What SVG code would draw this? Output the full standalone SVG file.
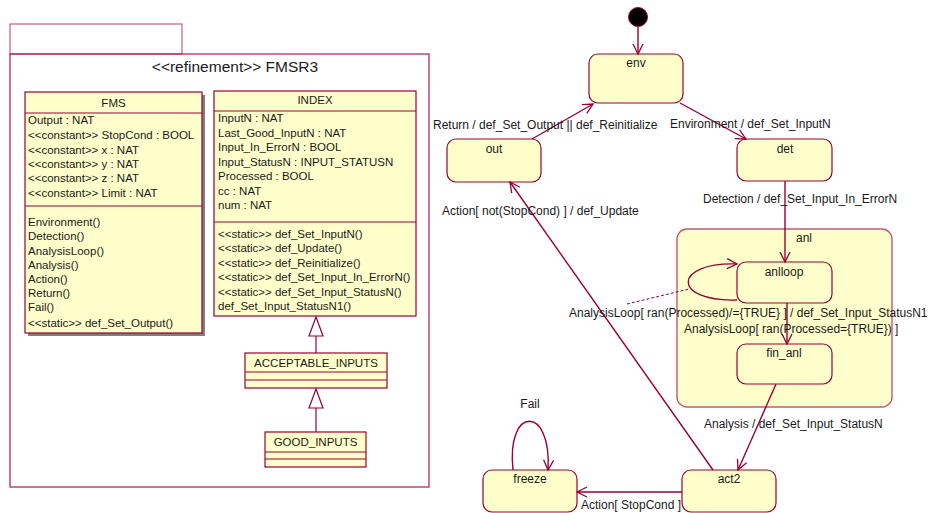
<svg xmlns="http://www.w3.org/2000/svg" width="933" height="513" viewBox="0 0 933 513">
<defs>
<marker id="arr" markerUnits="userSpaceOnUse" markerWidth="14" markerHeight="14" refX="11" refY="6" orient="auto">
<path d="M1,1 L11,6 L1,11" fill="none" stroke="#990033" stroke-width="1.3"/>
</marker>
<style>
text{font-family:"Liberation Sans",Arial,sans-serif;fill:#1a1a1a}
.cls{font-size:11.5px}
.st{font-size:12px}
.box{fill:#ffffcc;stroke:#990033;stroke-width:1.2}
.line{stroke:#990033;stroke-width:1.2;fill:none}
.state{fill:#ffffcc;stroke:#990033;stroke-width:1.2}
.conn{stroke:#990033;stroke-width:1.4;fill:none}
</style>
</defs>
<rect width="933" height="513" fill="#ffffff"/>

<g id="package">
<rect x="10" y="24" width="172" height="30" fill="none" stroke="#b8406a" stroke-width="1"/>
<rect x="10" y="54" width="419" height="433" fill="none" stroke="#b01a4a" stroke-width="1.2"/>
<text x="235" y="72" text-anchor="middle" style="font-size:15.5px">&lt;&lt;refinement&gt;&gt; FMSR3</text>
</g>

<g id="FMS">
<rect x="28" y="95" width="177" height="241" fill="#808080"/>
<rect x="25" y="92" width="177" height="241" class="box"/>
<line x1="25" y1="113" x2="202" y2="113" class="line"/>
<line x1="25" y1="206" x2="202" y2="206" class="line"/>
<text x="113.5" y="107" text-anchor="middle" class="cls">FMS</text>
<g class="cls">
<text x="28" y="124">Output : NAT</text>
<text x="28" y="139">&lt;&lt;constant&gt;&gt; StopCond : BOOL</text>
<text x="28" y="154">&lt;&lt;constant&gt;&gt; x : NAT</text>
<text x="28" y="168">&lt;&lt;constant&gt;&gt; y : NAT</text>
<text x="28" y="182">&lt;&lt;constant&gt;&gt; z : NAT</text>
<text x="28" y="197">&lt;&lt;constant&gt;&gt; Limit : NAT</text>
<text x="28" y="226">Environment()</text>
<text x="28" y="240">Detection()</text>
<text x="28" y="255">AnalysisLoop()</text>
<text x="28" y="269">Analysis()</text>
<text x="28" y="283">Action()</text>
<text x="28" y="297">Return()</text>
<text x="28" y="311">Fail()</text>
<text x="28" y="327">&lt;&lt;static&gt;&gt; def_Set_Output()</text>
</g>
</g>

<g id="INDEX">
<rect x="214" y="91" width="202" height="225" class="box"/>
<line x1="214" y1="111" x2="416" y2="111" class="line"/>
<line x1="214" y1="222" x2="416" y2="222" class="line"/>
<text x="315" y="104" text-anchor="middle" class="cls">INDEX</text>
<g class="cls">
<text x="218" y="122">InputN : NAT</text>
<text x="218" y="137">Last_Good_InputN : NAT</text>
<text x="218" y="151">Input_In_ErrorN : BOOL</text>
<text x="218" y="166">Input_StatusN : INPUT_STATUSN</text>
<text x="218" y="180">Processed : BOOL</text>
<text x="218" y="195">cc : NAT</text>
<text x="218" y="209">num : NAT</text>
<text x="218" y="238">&lt;&lt;static&gt;&gt; def_Set_InputN()</text>
<text x="218" y="252">&lt;&lt;static&gt;&gt; def_Update()</text>
<text x="218" y="267">&lt;&lt;static&gt;&gt; def_Reinitialize()</text>
<text x="218" y="281">&lt;&lt;static&gt;&gt; def_Set_Input_In_ErrorN()</text>
<text x="218" y="296">&lt;&lt;static&gt;&gt; def_Set_Input_StatusN()</text>
<text x="218" y="310">def_Set_Input_StatusN1()</text>
</g>
</g>

<g id="ACCEPTABLE_INPUTS">
<rect x="245" y="353" width="142" height="35" class="box"/>
<line x1="245" y1="372" x2="387" y2="372" class="line"/>
<line x1="245" y1="380" x2="387" y2="380" class="line"/>
<text x="316" y="367" text-anchor="middle" class="cls">ACCEPTABLE_INPUTS</text>
</g>

<g id="GOOD_INPUTS">
<rect x="265" y="432" width="101" height="35" class="box"/>
<line x1="265" y1="452" x2="366" y2="452" class="line"/>
<line x1="265" y1="459" x2="366" y2="459" class="line"/>
<text x="315.5" y="446" text-anchor="middle" class="cls">GOOD_INPUTS</text>
</g>

<g id="generalizations">
<line x1="316" y1="336" x2="316" y2="353" class="line"/>
<polygon points="316,317 309,336 323,336" fill="#ffffff" stroke="#990033" stroke-width="1.2"/>
<line x1="316" y1="408" x2="316" y2="432" class="line"/>
<polygon points="316,389 309,408 323,408" fill="#ffffff" stroke="#990033" stroke-width="1.2"/>
</g>

<g id="initial">
<circle cx="638" cy="17" r="9.5" fill="#000000" stroke="#990033" stroke-width="1"/>
</g>
<g id="env">
<rect x="589" y="54" width="94" height="49" rx="9" class="state"/>
<text x="636" y="67" text-anchor="middle" class="st">env</text>
</g>
<g id="out">
<rect x="447" y="139" width="94" height="43" rx="9" class="state"/>
<text x="494" y="153" text-anchor="middle" class="st">out</text>
</g>
<g id="det">
<rect x="737" y="139" width="95" height="42" rx="9" class="state"/>
<text x="785" y="153" text-anchor="middle" class="st">det</text>
</g>
<g id="anl">
<rect x="677" y="229" width="215" height="178" rx="10" fill="#ffffcc" stroke="#c45a7a" stroke-width="1.4"/>
<text x="804" y="242" text-anchor="middle" class="st">anl</text>
</g>
<g id="anlloop">
<rect x="737" y="262" width="95" height="41" rx="9" class="state"/>
<text x="784" y="276" text-anchor="middle" class="st">anlloop</text>
</g>
<g id="fin_anl">
<rect x="737" y="344" width="95" height="40" rx="9" class="state"/>
<text x="784" y="357" text-anchor="middle" class="st">fin_anl</text>
</g>
<g id="act2">
<rect x="682" y="470" width="94" height="42" rx="9" class="state"/>
<text x="729" y="483" text-anchor="middle" class="st">act2</text>
</g>
<g id="freeze">
<rect x="483" y="470" width="94" height="42" rx="9" class="state"/>
<text x="530" y="483" text-anchor="middle" class="st">freeze</text>
</g>

<g id="connectors">
<line x1="638" y1="27" x2="638" y2="54" class="conn" marker-end="url(#arr)"/>
<line x1="532" y1="139" x2="593" y2="104" class="conn" marker-end="url(#arr)"/>
<line x1="680" y1="103" x2="746" y2="139" class="conn" marker-end="url(#arr)"/>
<line x1="785" y1="181" x2="785" y2="262" class="conn" marker-end="url(#arr)"/>
<path d="M737,300 C672,302 672,262 737,264" class="conn" marker-end="url(#arr)"/>
<line x1="627" y1="304" x2="689" y2="289" stroke="#990033" stroke-width="1" stroke-dasharray="3,2"/>
<line x1="787" y1="303" x2="787" y2="344" class="conn" marker-end="url(#arr)"/>
<line x1="776" y1="384" x2="738" y2="470" class="conn" marker-end="url(#arr)"/>
<line x1="713" y1="470" x2="510" y2="182" class="conn" marker-end="url(#arr)"/>
<line x1="682" y1="492" x2="577" y2="492" class="conn" marker-end="url(#arr)"/>
<path d="M513,470 C506,405 552,405 548,470" class="conn" marker-end="url(#arr)"/>
</g>

<g id="labels" class="st">
<text x="433" y="129">Return / def_Set_Output || def_Reinitialize</text>
<text x="670" y="128">Environment / def_Set_InputN</text>
<text x="703" y="203">Detection / def_Set_Input_In_ErrorN</text>
<text x="569" y="317">AnalysisLoop[ ran(Processed)/={TRUE} ] / def_Set_Input_StatusN1</text>
<text x="684" y="333">AnalysisLoop[ ran(Processed={TRUE}) ]</text>
<text x="704" y="428">Analysis / def_Set_Input_StatusN</text>
<text x="442" y="215">Action[ not(StopCond) ] / def_Update</text>
<text x="581" y="509">Action[ StopCond ]</text>
<text x="530" y="408" text-anchor="middle">Fail</text>
</g>
</svg>
